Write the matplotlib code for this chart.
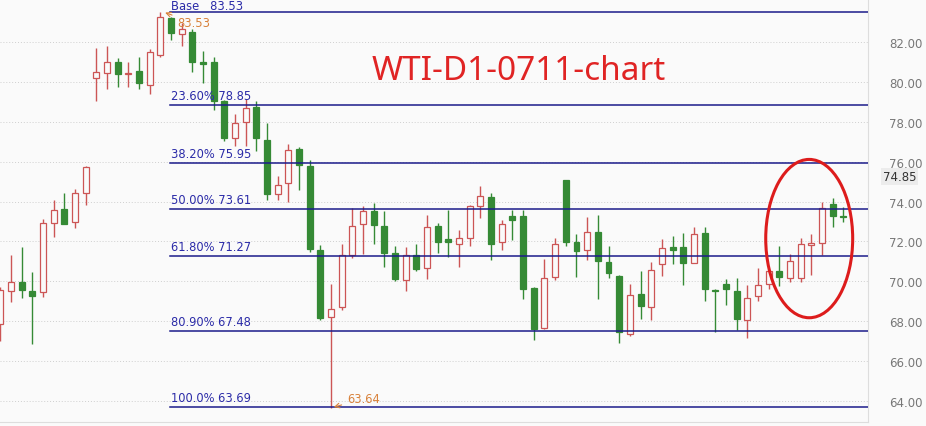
import matplotlib
matplotlib.use('Agg')
import matplotlib.pyplot as plt
from matplotlib.patches import Ellipse
import numpy as np

# daily candles
opens = [67.86, 69.49, 69.96, 69.51, 69.46, 72.91, 73.63, 72.99, 74.42, 80.18,
         80.43, 81.03, 80.38, 80.54, 79.86, 81.38, 83.21, 82.39, 82.51, 81.03,
         80.99, 79.06, 77.17, 78.01, 78.75, 77.07, 74.39, 74.91, 76.66, 75.77,
         71.56, 68.18, 68.68, 71.34, 72.86, 73.55, 72.79, 71.43, 70.07, 71.31,
         70.64, 72.79, 72.10, 71.88, 72.15, 73.80, 74.21, 71.95, 73.25, 73.25,
         69.68, 67.64, 70.22, 75.07, 71.98, 71.58, 72.49, 70.97, 70.27, 67.35,
         69.34, 68.70, 70.84, 71.73, 71.73, 70.92, 72.44, 69.57, 69.88, 69.51,
         68.03, 69.26, 69.84, 70.50, 70.16, 70.16, 71.81, 71.93, 73.87, 73.22]
highs = [69.70, 71.34, 71.73, 70.47, 73.13, 74.09, 74.42, 74.64, 75.80, 81.71,
         81.83, 81.21, 80.99, 81.24, 81.66, 83.53, 83.26, 82.97, 82.67, 81.55,
         81.24, 79.10, 78.41, 79.14, 79.06, 77.96, 75.27, 76.91, 76.73, 76.11,
         71.81, 69.88, 71.85, 73.70, 73.80, 73.92, 73.50, 71.78, 71.73, 71.85,
         73.33, 72.91, 73.58, 72.57, 73.85, 74.76, 74.42, 73.08, 73.58, 73.58,
         69.72, 71.11, 72.19, 75.10, 72.35, 73.20, 73.33, 71.78, 70.33, 69.88,
         70.52, 70.97, 72.10, 72.29, 72.40, 72.74, 72.71, 69.60, 70.13, 70.16,
         69.79, 70.64, 70.52, 71.78, 71.39, 72.19, 72.35, 74.00, 74.17, 73.75]
lows = [67.00, 68.95, 69.17, 66.85, 69.19, 72.22, 72.86, 72.66, 73.84, 79.06,
        79.64, 79.76, 79.73, 79.64, 79.39, 81.28, 82.12, 81.83, 80.48, 79.93,
        78.58, 77.04, 76.78, 76.78, 76.56, 74.09, 74.09, 74.00, 74.59, 71.48,
        68.03, 63.64, 68.53, 71.14, 71.39, 71.85, 70.70, 69.99, 69.49, 70.50,
        70.13, 71.44, 71.23, 70.72, 71.78, 73.18, 71.06, 71.56, 72.07, 69.09,
        67.07, 67.61, 70.05, 71.78, 70.22, 71.06, 69.09, 70.16, 66.90, 67.24,
        68.11, 68.03, 70.25, 70.84, 69.79, 70.90, 68.99, 67.44, 68.79, 67.57,
        67.14, 68.99, 69.59, 69.76, 69.96, 69.96, 70.30, 71.34, 72.71, 72.95]
closes = [69.54, 69.96, 69.58, 69.26, 72.91, 73.58, 72.89, 74.42, 75.72, 80.48,
          81.03, 80.40, 80.47, 79.94, 81.49, 83.26, 82.47, 82.67, 81.03, 80.90,
          79.06, 77.17, 77.94, 78.68, 77.17, 74.39, 74.81, 76.61, 75.82, 71.61,
          68.16, 68.58, 71.31, 72.79, 73.55, 72.82, 71.44, 70.13, 71.31, 70.60,
          72.71, 71.98, 71.98, 72.15, 73.80, 74.26, 71.86, 72.89, 73.08, 69.59,
          67.61, 70.18, 71.88, 71.98, 71.51, 72.49, 71.03, 70.42, 67.44, 69.32,
          68.75, 70.57, 71.68, 71.56, 70.92, 72.37, 69.59, 69.52, 69.63, 68.08,
          69.16, 69.83, 70.50, 70.22, 71.03, 71.85, 71.93, 73.70, 73.28, 73.20]

fib_pcts = ['Base', '23.60%', '38.20%', '50.00%', '61.80%', '80.90%', '100.0%']
fib_levels = [83.53, 78.85, 75.95, 73.61, 71.27, 67.48, 63.69]
yticks = [64, 66, 68, 70, 72, 74, 76, 78, 80, 82]
last_price = 74.85
title = 'WTI-D1-0711-chart'

up_col = '#cc5555'
dn_col = '#358a35'
bg = '#fafafa'
fib_col = '#1c1c8a'

o = np.array(opens); h = np.array(highs); l = np.array(lows); c = np.array(closes)
x = np.arange(len(o))
up = c >= o

fig = plt.figure(figsize=(9.26, 4.27), dpi=100, facecolor=bg)
ax = fig.add_axes([0, 4/427, 868/926, 423/427], facecolor=bg)

ax.vlines(x, l, h, colors=np.where(up, up_col, dn_col), linewidth=1, zorder=2)
body = np.maximum(np.abs(c - o), 0.06)
ax.bar(x[up], body[up], bottom=np.minimum(o, c)[up], width=0.56,
       facecolor=bg, edgecolor=up_col, linewidth=0.9, zorder=3)
ax.bar(x[~up], body[~up], bottom=np.minimum(o, c)[~up], width=0.56,
       facecolor=dn_col, edgecolor=dn_col, linewidth=0.9, zorder=3)

ax.set_xlim(-0.03, 81.32)
ax.set_ylim(62.93, 84.17)

# fibonacci levels
x0 = 15.9
for pct, lev in zip(fib_pcts, fib_levels):
    ax.plot([x0, 82], [lev, lev], color=fib_col, linewidth=1.1, zorder=4)
    if pct == 'Base':
        lab, off = 'Base   %.2f' % lev, 0
    else:
        lab, off = '%s %.2f' % (pct, lev), 3
    ax.annotate(lab, (x0, lev), xytext=(1, off), textcoords='offset pixels',
                color='#2b2ba8', fontsize=8.3, va='bottom', ha='left', zorder=5)

# high / low markers
ax.annotate('83.53', xy=(15.2, max(highs)), xytext=(16.6, max(highs) - 0.55),
            color='#d8813a', fontsize=8.3, va='center',
            arrowprops=dict(arrowstyle='->', color='#d8813a', lw=0.8), zorder=6)
ax.annotate('63.64', xy=(31, min(lows)), xytext=(32.5, min(lows) + 0.45),
            color='#d8813a', fontsize=8.3, va='center',
            arrowprops=dict(arrowstyle='->', color='#d8813a', lw=0.8), zorder=6)

ax.add_patch(Ellipse((75.81, 72.14), 8.15, 7.95, fill=False,
                     edgecolor='#dd1c1c', linewidth=2.2, zorder=7))

ax.text(0.598, 0.811, title, transform=ax.transAxes, ha='center', va='baseline',
        color='#e02424', fontsize=24, family='Noto Sans', zorder=8)

ax.yaxis.tick_right()
ax.set_yticks(yticks)
ax.set_yticklabels(['%.2f' % v for v in yticks])
ax.tick_params(axis='y', length=0, pad=15, labelsize=8.5, labelcolor='#777777')
ax.set_xticks([])
ax.grid(axis='y', linestyle=(0, (1, 2)), color='#cfcfcf', linewidth=0.7)
ax.set_axisbelow(True)
for s in ['top', 'left']:
    ax.spines[s].set_visible(False)
ax.spines['right'].set_color('#dddddd')
ax.spines['bottom'].set_color('#dddddd')

ax.annotate('%.2f' % last_price, xy=(1, last_price), xycoords=('axes fraction', 'data'),
            xytext=(15, 8), textcoords='offset pixels', fontsize=8.5, color='#333333',
            va='center', ha='left', annotation_clip=False,
            bbox=dict(boxstyle='square,pad=0.15', facecolor='#ececec', edgecolor='none'))

fig.savefig('out.png', dpi=100, facecolor=bg)
